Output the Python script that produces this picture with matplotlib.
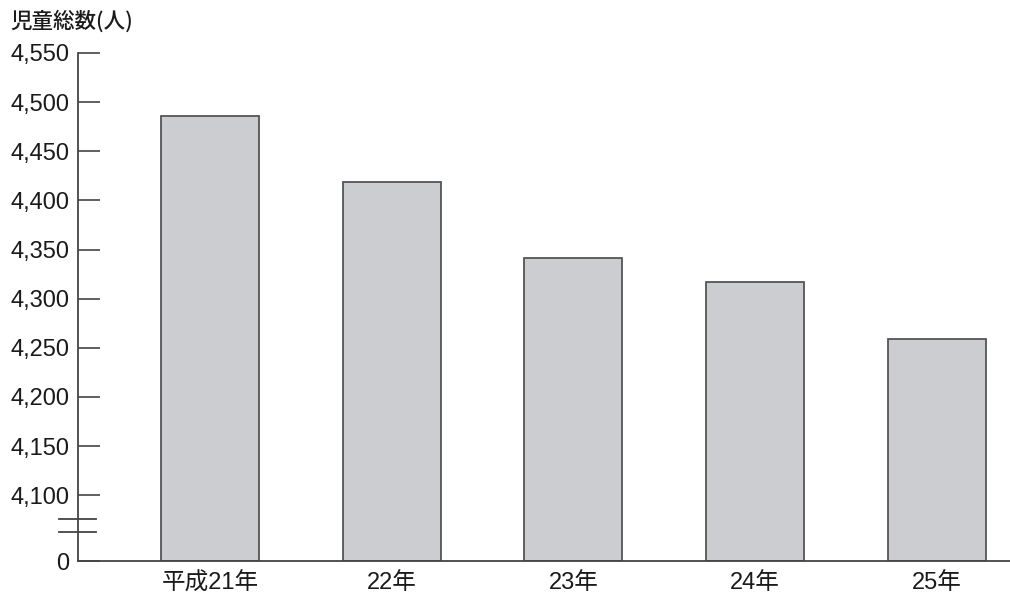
import matplotlib
matplotlib.use("Agg")
import matplotlib.pyplot as plt
import numpy as np

plt.rcParams['font.family'] = ['Liberation Sans', 'Noto Sans CJK JP', 'DejaVu Sans']

# data
years = ['平成21年', '22年', '23年', '24年', '25年']
children = [4486, 4419, 4341, 4317, 4259]
yticks = [0, 4100, 4150, 4200, 4250, 4300, 4350, 4400, 4450, 4500, 4550]

# broken axis: 0..4100 is squeezed into a short stub
BREAK = 4100
STUB = 67


def fwd(v):
    v = np.asarray(v, dtype=float)
    return np.where(v >= BREAK, v - BREAK + STUB, v * STUB / BREAK)


def inv(t):
    t = np.asarray(t, dtype=float)
    return np.where(t >= STUB, t - STUB + BREAK, t * BREAK / STUB)


fig = plt.figure(figsize=(10.1, 5.97), dpi=100)
ax = fig.add_axes([78 / 1010, 36 / 597, 932 / 1010, 508 / 597])

x = np.arange(len(years))
ax.bar(x, children, width=0.54, color='#cbcdd1', edgecolor='#555555', linewidth=1.3)

ax.set_yscale('function', functions=(fwd, inv))
ax.set_ylim(0, 4550)
ax.set_xlim(-0.726, 4.403)

ax.set_yticks(yticks)
ax.set_yticklabels([f'{v:,}' for v in yticks])
ax.yaxis.set_minor_locator(matplotlib.ticker.NullLocator())
ax.tick_params(axis='y', direction='in', length=16, width=1.2, color='#444444',
               labelsize=17, pad=6, labelcolor='#1a1a1a')
ax.set_xticks(x)
ax.set_xticklabels(years)
ax.tick_params(axis='x', length=0, labelsize=17, pad=8, labelcolor='#1a1a1a')

for s in ['top', 'right']:
    ax.spines[s].set_visible(False)
for s in ['left', 'bottom']:
    ax.spines[s].set_color('#444444')
    ax.spines[s].set_linewidth(1.3)

# break marks on the y axis
for yy in [0.0827, 0.057]:
    ax.plot([-0.0204, 0.0193], [yy, yy], transform=ax.transAxes, color='#444444',
            lw=1.3, clip_on=False)

fig.text(10 / 1010, 1 - 22 / 597, '児童総数(人)', fontsize=15.5, va='center', ha='left',
         family=['Noto Sans CJK JP'], weight='medium', color='#1a1a1a')

fig.savefig('out.png', dpi=100)
